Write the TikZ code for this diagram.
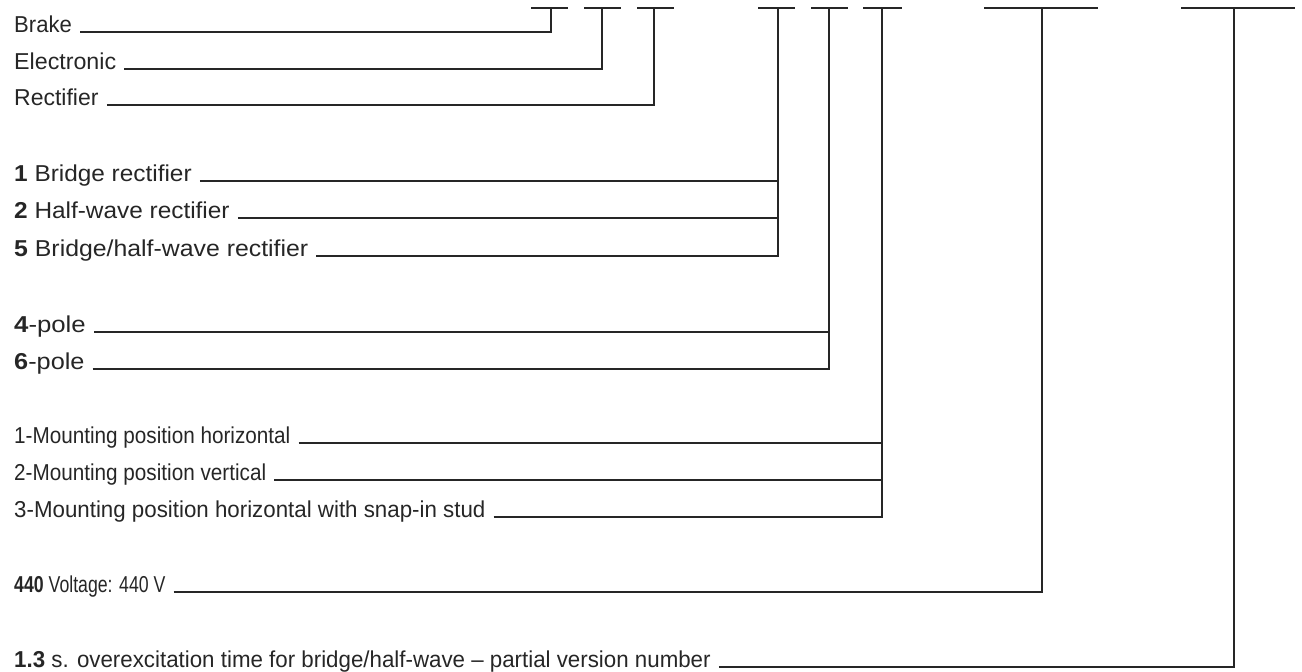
\documentclass[tikz,border=0pt]{standalone}
\usepackage{graphicx}
\usepackage{fontspec}
\setmainfont{Liberation Sans}
\newcommand{\sxbox}[2]{\scalebox{#1}[1]{#2}}
\begin{document}
\begin{tikzpicture}[x=1pt,y=-1pt,
  lbl/.style={anchor=base west,inner sep=0pt,text=black!85,font=\fontsize{23}{27}\selectfont},
  ln/.style={draw=black!85,line width=1.3pt},
  gap/.style={xshift=8pt}]
\useasboundingbox (0,0) rectangle (1302,672);
% top bars
\foreach \n/\l/\c/\r in {1/531/551/568, 2/584/602/621, 3/637/654/674, 4/758/778/795,
                          5/811/829/848, 6/863/882/902, 7/984/1042/1098, 8/1181/1234/1295}{
  \coordinate (b\n l) at (\l,8);
  \coordinate (b\n) at (\c,8);
  \coordinate (b\n r) at (\r,8);
  \draw[ln] (b\n l) -- (b\n r);
}
% labels
\node[lbl] (t1) at (14,32) {\sxbox{0.96}{Brake}};
\node[lbl] (t2) at (14,69) {\sxbox{1.01}{Electronic}};
\node[lbl] (t3) at (14,105) {\sxbox{1.0}{Rectifier}};
\node[lbl] (t4) at (14,181) {\sxbox{1.06}{\textbf{1} Bridge rectifier}};
\node[lbl] (t5) at (14,218) {\sxbox{1.06}{\textbf{2} Half-wave rectifier}};
\node[lbl] (t6) at (14,256) {\sxbox{1.08}{\textbf{5} Bridge/half-wave rectifier}};
\node[lbl] (t7) at (14,332) {\sxbox{1.12}{\textbf{4}-pole}};
\node[lbl] (t8) at (14,369) {\sxbox{1.10}{\textbf{6}-pole}};
\node[lbl] (t9) at (14,443) {\sxbox{0.90}{1-Mounting position horizontal}};
\node[lbl] (t10) at (14,480) {\sxbox{0.90}{2-Mounting position vertical}};
\node[lbl] (t11) at (14,517) {\sxbox{0.97}{3-Mounting position horizontal with snap-in stud}};
\node[lbl] (t12) at (14,592) {\sxbox{0.77}{\textbf{440} Voltage: 440 V}};
\node[lbl] (t13) at (14,667) {\sxbox{0.97}{\textbf{1.3} s. overexcitation time for bridge/half-wave – partial version number}};
% connectors
\foreach \t/\b in {1/1,2/2,3/3,4/4,5/4,6/4,7/5,8/5,9/6,10/6,11/6,12/7,13/8}{
  \draw[ln] ([gap]t\t.base east) -| (b\b);
}
\end{tikzpicture}
\end{document}
